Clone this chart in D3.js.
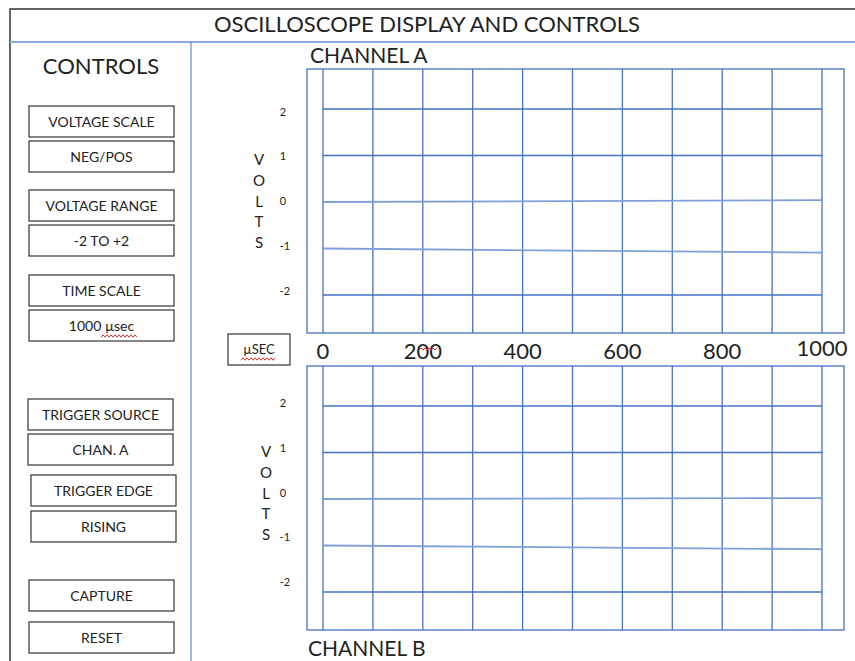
<!DOCTYPE html>
<html>
<head>
<meta charset="utf-8">
<script src="https://cdn.jsdelivr.net/npm/d3@7/dist/d3.min.js"></script>
<style>
  body { margin: 0; background: #fff; }
  svg text { font-family: Lato, "Open Sans", sans-serif; fill: #222; }
</style>
</head>
<body>
<div id="chart"></div>
<script>
// data
const controlLabels = ["VOLTAGE SCALE", "NEG/POS", "VOLTAGE RANGE", "-2 TO +2", "TIME SCALE", "1000 \u00b5sec",
  "TRIGGER SOURCE", "CHAN. A", "TRIGGER EDGE", "RISING", "CAPTURE", "RESET"];
const timeTicks = [0, 200, 400, 600, 800, 1000];
const timeGrid = [0, 100, 200, 300, 400, 500, 600, 700, 800, 900, 1000];
const voltTicks = [2, 1, 0, -1, -2];
const voltGrid = [2, 1, -2];
const traceTime = [0, 1000];
const chanA_zero = [0, 0.04];
const chanA_neg = [-1, -1.09];
const chanB_zero = [0, 0.02];
const chanB_neg = [-1, -1.08];

const W = 855, H = 661;
const gridBlue = "#4472c4", traceBlue = "#7f9fd8";

const svg = d3.select("#chart").append("svg").attr("width", W).attr("height", H);

// outer frame, title, dividers
svg.append("rect").attr("x", 10).attr("y", 9).attr("width", 870).attr("height", 680)
  .attr("fill", "none").attr("stroke", "#333").attr("stroke-width", 1.5);
svg.append("text").attr("x", 427).attr("y", 32).attr("text-anchor", "middle")
  .attr("font-size", 22).text("OSCILLOSCOPE DISPLAY AND CONTROLS");
svg.append("line").attr("x1", 10).attr("x2", W).attr("y1", 42).attr("y2", 42)
  .attr("stroke", "#8eaadb").attr("stroke-width", 2);
svg.append("line").attr("x1", 191).attr("x2", 191).attr("y1", 42).attr("y2", H)
  .attr("stroke", gridBlue).attr("stroke-width", 1);

// controls column
svg.append("text").attr("x", 101).attr("y", 74).attr("text-anchor", "middle")
  .attr("font-size", 22).text("CONTROLS");

const btnTop = [106, 141, 190, 225, 275, 310, 399, 434, 475, 511, 580, 622];
const btnLeft = [29, 29, 29, 29, 29, 29, 28, 28, 31, 31, 29, 29];
const btnW = 145, btnH = 31;

const btn = svg.selectAll(".btn").data(controlLabels).enter().append("g").attr("class", "btn")
  .attr("transform", (d, i) => "translate(" + btnLeft[i] + "," + btnTop[i] + ")");
btn.append("rect").attr("width", btnW).attr("height", btnH)
  .attr("fill", "#fff").attr("stroke", "#333").attr("stroke-width", 1.2);
btn.append("text").attr("x", btnW / 2).attr("y", btnH / 2 + 5).attr("text-anchor", "middle")
  .attr("font-size", 14).text(d => d);

// red spelling squiggle
function squiggle(x1, x2, y) {
  const pts = [];
  for (let x = x1, k = 0; x <= x2; x += 2, k++) pts.push([x, y + (k % 2 ? -1.2 : 1.2)]);
  svg.append("path").attr("d", d3.line()(pts)).attr("fill", "none")
    .attr("stroke", "#e0312b").attr("stroke-width", 1);
}
squiggle(101, 137, 336);

// scales
const x = d3.scaleLinear().domain([0, 1000]).range([323, 822]);

function drawPanel(top, zeroTrace, negTrace, labelShift) {
  const y = d3.scaleLinear().domain([-2, 2]).range([top + 226, top + 40]);
  const fTop = top, fBot = top + 264;
  const g = svg.append("g");

  g.append("rect").attr("x", 307).attr("y", fTop).attr("width", 537).attr("height", fBot - fTop)
    .attr("fill", "none").attr("stroke", gridBlue).attr("stroke-width", 1.3);

  g.selectAll(".vg").data(timeGrid).enter().append("line")
    .attr("x1", d => x(d)).attr("x2", d => x(d)).attr("y1", fTop).attr("y2", fBot)
    .attr("stroke", gridBlue).attr("stroke-width", 1.3);
  g.selectAll(".hg").data(voltGrid).enter().append("line")
    .attr("x1", x(0)).attr("x2", x(1000)).attr("y1", d => y(d)).attr("y2", d => y(d))
    .attr("stroke", gridBlue).attr("stroke-width", 1.3);

  const line = d3.line().x((d, i) => x(traceTime[i])).y(d => y(d));
  [zeroTrace, negTrace].forEach(tr => {
    g.append("path").attr("d", line(tr)).attr("fill", "none")
      .attr("stroke", traceBlue).attr("stroke-width", 1.8);
  });

  g.selectAll(".yl").data(voltTicks).enter().append("text")
    .attr("x", d => d < 0 ? 285 : 283).attr("y", d => y(d) + 4 + labelShift + 1.75 * d)
    .attr("text-anchor", "middle").attr("font-size", 11).attr("fill", "#333").text(d => d);

  return y;
}

const yA = drawPanel(69, chanA_zero, chanA_neg, -1);
const yB = drawPanel(366, chanB_zero, chanB_neg, -6.4);

// VOLTS labels
function volts(cx, cy0) {
  svg.selectAll(null).data("VOLTS".split("")).enter().append("text")
    .attr("x", cx).attr("y", (d, i) => cy0 + i * 20.8).attr("text-anchor", "middle")
    .attr("font-size", 15).text(d => d);
}
volts(259, 165);
volts(266, 457);

svg.append("text").attr("x", 310).attr("y", 63).attr("font-size", 21).text("CHANNEL A");
svg.append("text").attr("x", 308).attr("y", 656).attr("font-size", 21).text("CHANNEL B");

// time axis labels between panels
svg.selectAll(".xl").data(timeTicks).enter().append("text")
  .attr("x", d => x(d)).attr("y", d => d === 1000 ? 356 : 359)
  .attr("text-anchor", "middle").attr("font-size", 22).text(d => d);
squiggle(419, 437, 349);

svg.append("rect").attr("x", 228).attr("y", 334).attr("width", 62).attr("height", 31)
  .attr("fill", "#fff").attr("stroke", "#333").attr("stroke-width", 1.2);
svg.append("text").attr("x", 259).attr("y", 354).attr("text-anchor", "middle")
  .attr("font-size", 13).text("\u00b5SEC");
squiggle(241, 276, 359);
</script>
</body>
</html>
